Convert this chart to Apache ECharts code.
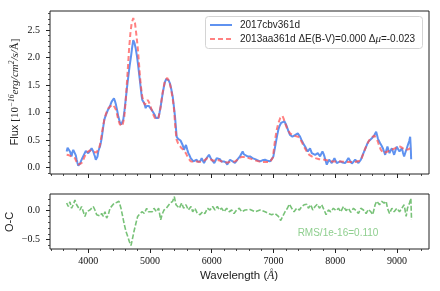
<!DOCTYPE html>
<html><head><meta charset="utf-8">
<script src="https://cdn.jsdelivr.net/npm/echarts@6/dist/echarts.min.js"></script>
<style>html,body{margin:0;padding:0;background:#fff}#c{width:440px;height:291px}</style>
</head><body><div id="c"></div>
<script>
// Observed spectrum 2017cbv361d (wavelength, flux 1e-16)
const obsWave = [3650,3665,3676,3690,3703,3716,3730,3743,3757,3770,3784,3798,3812,3825,3838,3852,3865,3884,3903,3925,3946,3960,3973,3987,4000,4027,4054,4068,4081,4095,4108,4122,4136,4150,4162,4176,4190,4203,4217,4240,4260,4280,4298,4315,4335,4358,4379,4398,4416,4432,4449,4468,4486,4508,4530,4548,4567,4586,4606,4627,4648,4670,4692,4710,4729,4748,4768,4790,4810,4832,4854,4865,4875,4892,4908,4920,4930,4946,4962,4980,5000,5027,5054,5075,5097,5115,5135,5155,5173,5190,5206,5225,5243,5262,5280,5300,5324,5346,5368,5386,5405,5420,5432,5455,5475,5495,5513,5532,5551,5567,5583,5602,5621,5640,5659,5680,5702,5730,5756,5778,5799,5818,5837,5856,5875,5896,5918,5937,5956,5978,5999,6020,6042,6061,6080,6107,6134,6155,6177,6196,6215,6233,6252,6274,6296,6318,6339,6358,6377,6396,6415,6436,6458,6480,6501,6520,6540,6580,6621,6660,6702,6740,6783,6820,6864,6905,6945,6972,6999,7018,7037,7058,7080,7100,7123,7150,7177,7195,7215,7242,7269,7290,7307,7330,7350,7372,7394,7412,7431,7450,7469,7490,7513,7535,7556,7575,7593,7608,7621,7648,7675,7697,7718,7737,7756,7775,7794,7810,7826,7845,7864,7883,7902,7923,7945,7966,7988,8007,8026,8053,8080,8120,8161,8188,8215,8242,8270,8297,8324,8350,8377,8396,8416,8437,8458,8480,8502,8520,8539,8566,8594,8615,8636,8650,8664,8678,8691,8710,8729,8750,8772,8791,8810,8828,8847,8863,8880,8899,8918,8936,8955,8977,8999,9020,9042,9061,9080,9098,9117,9140,9161,9175,9187,9200,9215,9225,9231];
const obsFlux = [0.29,0.36,0.38,0.33,0.29,0.25,0.20,0.28,0.32,0.30,0.32,0.22,0.14,0.08,0.03,0.05,0.07,0.12,0.17,0.22,0.25,0.30,0.32,0.28,0.26,0.30,0.35,0.32,0.29,0.24,0.20,0.14,0.11,0.20,0.29,0.34,0.38,0.45,0.53,0.72,0.87,0.94,0.99,1.04,1.08,1.14,1.20,1.23,1.26,1.21,1.14,1.04,0.93,0.84,0.78,0.82,0.87,1.03,1.23,1.45,1.65,1.85,2.02,2.18,2.32,2.27,2.17,2.02,1.84,1.62,1.41,1.30,1.23,1.20,1.17,1.12,1.08,1.12,1.14,1.12,1.11,1.05,1.02,0.96,0.90,0.88,0.90,1.00,1.11,1.24,1.35,1.47,1.56,1.61,1.63,1.59,1.53,1.42,1.29,1.12,0.93,0.72,0.56,0.52,0.50,0.49,0.47,0.40,0.32,0.37,0.41,0.33,0.26,0.22,0.17,0.14,0.11,0.13,0.14,0.10,0.07,0.12,0.17,0.12,0.08,0.13,0.17,0.20,0.23,0.18,0.14,0.11,0.08,0.12,0.17,0.16,0.15,0.11,0.08,0.11,0.14,0.09,0.05,0.10,0.14,0.12,0.11,0.09,0.08,0.11,0.14,0.17,0.20,0.25,0.29,0.24,0.23,0.20,0.20,0.17,0.15,0.13,0.11,0.13,0.14,0.12,0.11,0.15,0.20,0.32,0.44,0.57,0.69,0.76,0.81,0.83,0.84,0.80,0.75,0.66,0.59,0.57,0.56,0.58,0.59,0.61,0.62,0.59,0.56,0.51,0.47,0.42,0.38,0.33,0.29,0.32,0.35,0.30,0.26,0.25,0.23,0.25,0.26,0.23,0.20,0.25,0.29,0.25,0.20,0.12,0.05,0.10,0.14,0.11,0.08,0.12,0.17,0.12,0.08,0.11,0.11,0.09,0.08,0.12,0.17,0.12,0.07,0.10,0.14,0.11,0.08,0.11,0.14,0.20,0.26,0.32,0.38,0.43,0.47,0.50,0.53,0.56,0.59,0.62,0.65,0.59,0.53,0.48,0.44,0.40,0.35,0.29,0.23,0.31,0.38,0.32,0.26,0.31,0.35,0.29,0.23,0.31,0.38,0.33,0.29,0.32,0.35,0.27,0.20,0.28,0.35,0.40,0.44,0.48,0.56,0.35,0.15];

// Template 2013aa361d
const tmpWave = [3650,3690,3730,3757,3784,3810,3838,3865,3892,3920,3946,3973,4000,4027,4054,4081,4108,4130,4150,4170,4190,4215,4240,4260,4290,4325,4365,4405,4430,4449,4468,4486,4510,4541,4562,4584,4603,4622,4641,4660,4682,4703,4729,4745,4757,4778,4800,4820,4838,4856,4875,4897,4919,4940,4962,4982,5000,5027,5054,5080,5110,5135,5160,5180,5206,5243,5280,5310,5340,5368,5390,5405,5420,5432,5455,5475,5510,5545,5580,5621,5660,5702,5756,5810,5870,5930,5970,6020,6080,6140,6200,6260,6320,6380,6430,6480,6540,6600,6650,6700,6760,6820,6880,6945,6990,7026,7052,7080,7110,7145,7165,7188,7220,7269,7320,7350,7400,7431,7469,7500,7540,7580,7621,7680,7740,7826,7900,7945,8000,8080,8160,8240,8320,8400,8430,8458,8500,8539,8570,8594,8636,8660,8680,8700,8718,8740,8756,8785,8810,8850,8891,8930,8972,9010,9053,9095,9134,9165,9187,9215];
const tmpFlux = [0.23,0.22,0.20,0.19,0.17,0.10,0.05,0.02,0.08,0.14,0.21,0.27,0.29,0.31,0.32,0.29,0.26,0.27,0.29,0.34,0.41,0.58,0.75,0.87,0.99,1.08,1.12,1.14,1.11,1.05,0.96,0.87,0.79,0.75,0.80,0.93,1.17,1.47,1.80,2.14,2.44,2.63,2.72,2.69,2.63,2.43,2.20,1.92,1.65,1.45,1.29,1.19,1.14,1.19,1.23,1.19,1.14,1.05,0.96,0.90,0.87,0.89,1.02,1.17,1.37,1.59,1.63,1.57,1.44,1.25,1.05,0.81,0.62,0.50,0.44,0.41,0.35,0.32,0.26,0.17,0.11,0.10,0.11,0.10,0.12,0.17,0.16,0.12,0.14,0.12,0.09,0.09,0.10,0.11,0.15,0.19,0.19,0.17,0.15,0.13,0.11,0.10,0.10,0.10,0.18,0.50,0.68,0.81,0.90,0.94,0.89,0.81,0.71,0.62,0.58,0.57,0.56,0.52,0.44,0.37,0.29,0.23,0.20,0.17,0.15,0.14,0.12,0.11,0.11,0.11,0.10,0.10,0.10,0.12,0.17,0.26,0.38,0.47,0.53,0.56,0.58,0.55,0.50,0.44,0.38,0.32,0.29,0.26,0.26,0.29,0.32,0.33,0.35,0.37,0.38,0.35,0.32,0.32,0.33,0.35];

// Residual O-C
const resWave = [3650,3676,3703,3730,3757,3784,3811,3838,3865,3892,3920,3946,3973,4000,4027,4054,4081,4108,4136,4163,4190,4217,4244,4271,4298,4325,4352,4379,4422,4459,4497,4530,4557,4584,4611,4638,4665,4692,4713,4740,4767,4800,4838,4875,4908,4946,4973,5000,5038,5065,5103,5140,5173,5195,5227,5265,5297,5329,5367,5394,5421,5448,5475,5513,5545,5583,5621,5664,5691,5729,5767,5810,5853,5891,5929,5972,6015,6053,6091,6124,6161,6199,6242,6285,6323,6361,6404,6447,6485,6512,6540,6621,6702,6783,6864,6918,6972,7026,7080,7118,7150,7188,7226,7258,7296,7334,7377,7420,7458,7496,7539,7566,7604,7637,7674,7712,7745,7782,7820,7853,7890,7928,7971,8015,8053,8091,8134,8177,8215,8253,8296,8339,8377,8415,8458,8501,8539,8577,8609,8647,8674,8718,8755,8793,8826,8847,8880,8918,8955,8999,9042,9080,9117,9150,9171,9204,9226,9237];
const resVal = [0.13,0.07,0.15,0.04,0.10,0.18,0.10,0.13,0.01,0.07,-0.02,-0.10,-0.02,-0.05,0.01,-0.02,0.07,0.01,-0.07,-0.05,-0.09,-0.05,-0.10,-0.02,-0.13,-0.07,0.04,0.07,0.13,0.14,0.16,0.04,-0.10,-0.24,-0.36,-0.44,-0.53,-0.60,-0.50,-0.36,-0.24,-0.10,-0.05,-0.02,-0.05,0.04,-0.02,0.01,-0.02,0.04,-0.02,0.04,-0.16,-0.07,0.01,0.04,0.07,0.13,0.16,0.24,0.10,0.13,0.04,0.13,0.04,0.10,0.01,0.07,-0.02,0.04,-0.05,-0.07,-0.02,-0.05,0.04,0.01,0.07,0.01,0.07,0.01,0.04,-0.02,0.04,-0.02,0.01,-0.05,0.01,0.04,-0.02,0.01,0.01,0.02,-0.02,0.01,-0.02,-0.05,-0.07,-0.05,-0.10,-0.17,-0.10,-0.02,0.04,0.11,0.04,-0.02,0.04,0.01,0.07,0.10,0.11,0.04,0.10,0.01,0.07,0.11,0.04,0.10,0.01,-0.07,0.01,-0.02,0.04,0.00,0.04,-0.02,0.07,0.00,0.04,-0.03,0.04,0.00,-0.05,0.04,0.01,-0.05,0.02,-0.02,-0.07,0.10,0.16,0.10,0.16,0.13,0.16,0.04,-0.05,0.04,-0.02,0.04,-0.02,0.04,0.10,-0.10,0.04,0.13,0.21,-0.16];

const xMajor = [4000,5000,6000,7000,8000,9000];
const fluxTicks = [0.0,0.5,1.0,1.5,2.0,2.5];
const resTicks = [-0.5,0.0];
const legendNames = ['2017cbv361d','2013aa361d \u0394E(B-V)=0.000 \u0394\u03bc=-0.023'];
const rmsText = 'RMS/1e-16=0.110';

const zip = (a,b) => a.map((v,i)=>[v,b[i]]);
const range = (a,b,s) => { const r=[]; for(let v=a; v<=b+1e-9; v+=s) r.push(Math.round(v*1000)/1000); return r; };
const xMinor = range(3400,9400,200).filter(v => v%1000!==0);
const fluxMinor = range(-0.1,2.8,0.1).filter(v => Math.abs(v*2-Math.round(v*2))>1e-6);
const resMinor = range(-0.6,0.2,0.1).filter(v => Math.abs(v*2-Math.round(v*2))>1e-6);

const SERIF = 'Liberation Serif';
const SANS = 'Liberation Sans';
const BLUE = '#5f92f0';
const RED = 'rgba(255,80,80,0.72)';
const fmtNum = v => { const s = (Math.abs(v)<1e-9?0:v).toFixed(1); return s.replace('-','\u2212'); };

const X0 = 3380, X1 = 9520;
function xAx(grid, major, label){
  return {type:'value', gridIndex:grid, min:X0, max:X1, position:'bottom',
    axisLine:{show:false, onZero:false}, splitLine:{show:false},
    axisTick: major ? {show:true, customValues:xMajor, length:4, lineStyle:{color:'#222',width:1}} : {show:true, customValues:xMinor, length:2, lineStyle:{color:'#222',width:0.8}},
    axisLabel: (major && label) ? {show:true, customValues:xMajor, margin:7, fontFamily:SERIF, fontSize:10, color:'#111', formatter: v=>String(v)} : {show:false}
  };
}
function yAx(grid, min, max, ticks, minor, major){
  return {type:'value', gridIndex:grid, min:min, max:max, position:'left',
    axisLine:{show:false, onZero:false}, splitLine:{show:false},
    axisTick: major ? {show:true, customValues:ticks, length:4, lineStyle:{color:'#222',width:1}} : {show:true, customValues:minor, length:2, lineStyle:{color:'#222',width:0.8}},
    axisLabel: major ? {show:true, customValues:ticks, margin:10, fontFamily:SERIF, fontSize:10, color:'#111', formatter: fmtNum} : {show:false}
  };
}

const chart = echarts.init(document.getElementById('c'), null, {renderer:'canvas'});
chart.setOption({
  animation:false,
  backgroundColor:'#fff',
  grid:[
    {left:50, top:11, width:379, height:163, show:true, borderColor:'#222', borderWidth:1, backgroundColor:'transparent'},
    {left:50, top:194, width:379, height:55, show:true, borderColor:'#222', borderWidth:1, backgroundColor:'transparent'}
  ],
  xAxis:[xAx(0,true,false), xAx(0,false,false), xAx(1,true,true), xAx(1,false,false)],
  yAxis:[yAx(0,-0.12,2.85,fluxTicks,fluxMinor,true), yAx(0,-0.12,2.85,fluxTicks,fluxMinor,false),
         yAx(1,-0.66,0.285,resTicks,resMinor,true), yAx(1,-0.66,0.285,resTicks,resMinor,false)],
  series:[
    {name:legendNames[0], type:'line', xAxisIndex:0, yAxisIndex:0, data:zip(obsWave,obsFlux), showSymbol:false, symbol:'none',
      lineStyle:{color:BLUE, width:2}, z:2},
    {name:legendNames[1], type:'line', xAxisIndex:0, yAxisIndex:0, data:zip(tmpWave,tmpFlux), showSymbol:false, symbol:'none',
      lineStyle:{color:RED, width:2, type:[5,3]}, z:3},
    {name:'res', type:'line', xAxisIndex:2, yAxisIndex:2, data:zip(resWave,resVal), showSymbol:false, symbol:'none',
      lineStyle:{color:'#78c278', width:1.6, type:[5,2]}, z:2}
  ],
  graphic:[
    // legend
    {type:'rect', shape:{x:205.5, y:16.5, width:217, height:32, r:3}, style:{fill:'rgba(255,255,255,0.85)', stroke:'#d4d4d4', lineWidth:1}, z:10},
    {type:'line', shape:{x1:210, y1:25, x2:232, y2:25}, style:{stroke:BLUE, lineWidth:2}, z:11},
    {type:'line', shape:{x1:210, y1:39, x2:232, y2:39}, style:{stroke:RED, lineWidth:2, lineDash:[5,3]}, z:11},
    {type:'text', x:240, y:25, z:11, style:{text:legendNames[0], font:'10px "Liberation Sans"', fill:'#222', verticalAlign:'middle'}},
    {type:'text', x:240, y:39, z:11, style:{text:'{a|2013aa361d \u0394E(B-V)=0.000 \u0394}{i|\u03bc}{a|=-0.023}', verticalAlign:'middle',
      rich:{a:{fontFamily:SANS, fontSize:10, fill:'#222'}, i:{fontFamily:SERIF, fontStyle:'italic', fontSize:11, fill:'#222'}}}},
    // axis names
    {type:'text', x:15, y:92, rotation:Math.PI/2, style:{
      text:'{a|Flux }{b|[10}{s|\u221216}{c|erg/cm}{s|2}{c|/s/}{b|\u00c5]}',
      align:'center', verticalAlign:'middle', fill:'#222',
      rich:{a:{fontFamily:SANS, fontSize:11, fill:'#222'}, b:{fontFamily:SERIF, fontSize:11, fill:'#222'}, c:{fontFamily:SERIF, fontStyle:'italic', fontSize:11, fill:'#222'}, s:{fontFamily:SERIF, fontStyle:'italic', fontSize:7.5, fill:'#222', verticalAlign:'top', padding:[0,0,5,0]}}
    }},
    {type:'text', x:10, y:222, rotation:Math.PI/2, style:{text:'O-C', font:'11px "Liberation Sans"', align:'center', verticalAlign:'middle', fill:'#222'}},
    {type:'text', x:239, y:276, style:{text:'{a|Wavelength (}{c|\u00c5}{a|)}', align:'center', verticalAlign:'middle',
      rich:{a:{fontFamily:SANS, fontSize:11.5, fill:'#222'}, c:{fontFamily:SERIF, fontStyle:'italic', fontSize:11.5, fill:'#222'}}}},
    {type:'text', x:338, y:233, style:{text:rmsText, font:'10px "Liberation Sans"', align:'center', verticalAlign:'middle', fill:'#8fcf8f'}}
  ]
});
</script></body></html>
